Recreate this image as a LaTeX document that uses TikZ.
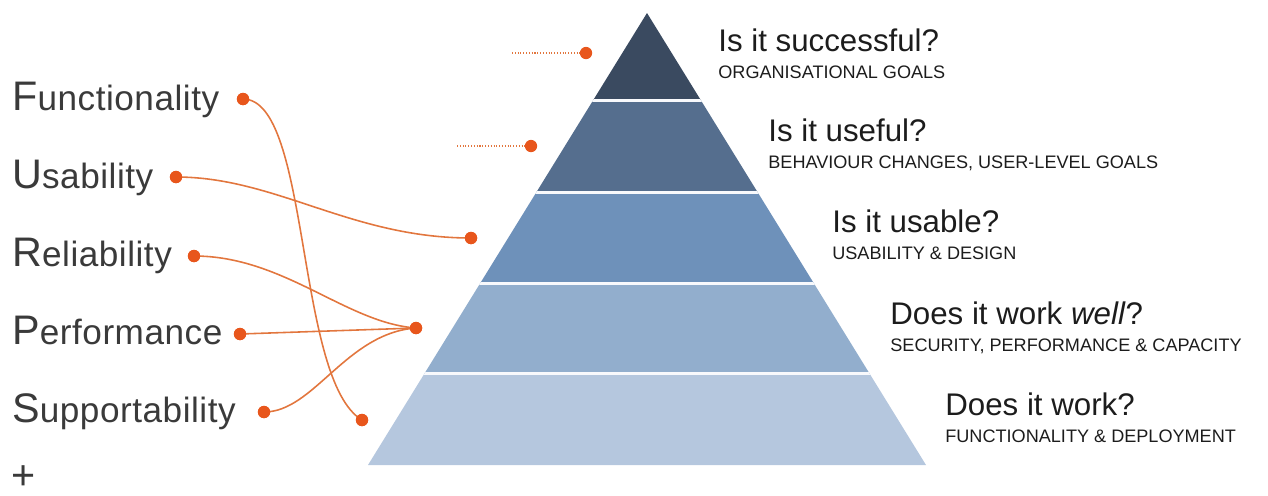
\documentclass[tikz,border=0pt]{standalone}
\usepackage{fontspec}
\setmainfont{Liberation Sans}
\usetikzlibrary{positioning}
\definecolor{dotc}{RGB}{232,86,28}
\definecolor{linec}{RGB}{226,118,62}
\definecolor{lblc}{RGB}{58,58,58}
\definecolor{qc}{RGB}{28,28,28}
\definecolor{b1}{RGB}{58,74,96}
\definecolor{b2}{RGB}{85,110,142}
\definecolor{b3}{RGB}{110,145,186}
\definecolor{b4}{RGB}{146,174,205}
\definecolor{b5}{RGB}{181,199,222}
\newcommand{\ini}[1]{{\fontsize{23.5}{24}\selectfont #1}}

\begin{document}
\begin{tikzpicture}[x=0.02cm,y=-0.02cm,
        dot/.style={circle,fill=dotc,inner sep=0pt,minimum size=7pt},
        link/.style={linec,line width=0.9pt},
        lbl/.style={anchor=base west,inner sep=0pt,text=lblc,font=\fontsize{20}{21}\selectfont\addfontfeatures{LetterSpace=1.5}},
        qtitle/.style={anchor=base west,inner sep=0pt,text=qc,font=\fontsize{17.8}{20}\selectfont},
        qsub/.style={anchor=base west,inner sep=0pt,text=qc,font=\fontsize{10.3}{12}\selectfont},
        sep/.style={draw=white!90!b5,line width=1.7pt}]
        \useasboundingbox (0,0) rectangle (1268,495);
        % pyramid
        \begin{scope}
          \clip (368,465) -- (647,13) -- (926,465) -- cycle;
          \foreach \ya/\yb/\c in {0/100/b1,100/192.5/b2,192.5/283.5/b3,283.5/373.5/b4,373.5/470/b5}
            \fill[\c] (300,\ya) rectangle (1000,\yb);
          \foreach \ys in {100,192.5,283.5,373.5}
            \draw[sep] (300,\ys) -- (1000,\ys);
        \end{scope}
        % questions
        \node[qtitle] at (718,51) (q1) {Is it successful?};
        \node[qsub, below=15.5pt of q1.base west, anchor=base west] (s1) {ORGANISATIONAL GOALS};
        \node[qtitle] at (768,141) (q2) {Is it useful?};
        \node[qsub, below=15.5pt of q2.base west, anchor=base west] (s2) {BEHAVIOUR CHANGES, USER-LEVEL GOALS};
        \node[qtitle] at (832,232) (q3) {Is it usable?};
        \node[qsub, below=15.5pt of q3.base west, anchor=base west] (s3) {USABILITY \& DESIGN};
        \node[qtitle] at (890,324) (q4) {Does it work \textit{well}?};
        \node[qsub, below=15.5pt of q4.base west, anchor=base west] (s4) {SECURITY, PERFORMANCE \& CAPACITY};
        \node[qtitle] at (945,415) (q5) {Does it work?};
        \node[qsub, below=15.5pt of q5.base west, anchor=base west] (s5) {FUNCTIONALITY \& DEPLOYMENT};
        % FURPS+
        \node[lbl] at (12,110) (lf) {\ini{F}unctionality};
        \node[lbl] at (12,188) (lu) {\ini{U}sability};
        \node[lbl] at (12,266) (lr) {\ini{R}eliability};
        \node[lbl] at (12,344) (lp) {\ini{P}erformance};
        \node[lbl] at (12,422) (ls) {\ini{S}upportability};
        \node[anchor=base west,inner sep=0pt,text=lblc] at (11,489) (plus) {\ini{+}};
        % dots
        \node[dot] at (243,99) (df) {};
        \node[dot] at (176,177) (du) {};
        \node[dot] at (194,256) (dr) {};
        \node[dot] at (240,334) (dp) {};
        \node[dot] at (264,412) (ds) {};
        \node[dot] at (586,53) (t1) {};
        \node[dot] at (531,146) (t2) {};
        \node[dot] at (471,238) (t3) {};
        \node[dot] at (416,328) (t4) {};
        \node[dot] at (362,420) (t5) {};
        \coordinate (e1) at (512,53);
        \coordinate (e2) at (457,146);
        % links
        \draw[link] (df.center) .. controls +(68,0) and +(-67,-40) .. (t5.center);
        \draw[link] (du.center) .. controls +(100,0) and +(-120,0) .. (t3.center);
        \draw[link] (dr.center) .. controls +(90,0) and +(-70,-5) .. (t4.center);
        \draw[link] (dp.center) -- (t4.center);
        \draw[link] (ds.center) .. controls +(50,0) and +(-70,5) .. (t4.center);
        \draw[linec, line width=0.6pt, densely dotted] (e1) -- (t1);
        \draw[linec, line width=0.6pt, densely dotted] (e2) -- (t2);
        \foreach \d in {df,du,dr,dp,ds,t3,t4,t5}
          \fill[dotc] (\d) circle (3.5pt);
\end{tikzpicture}
\end{document}
